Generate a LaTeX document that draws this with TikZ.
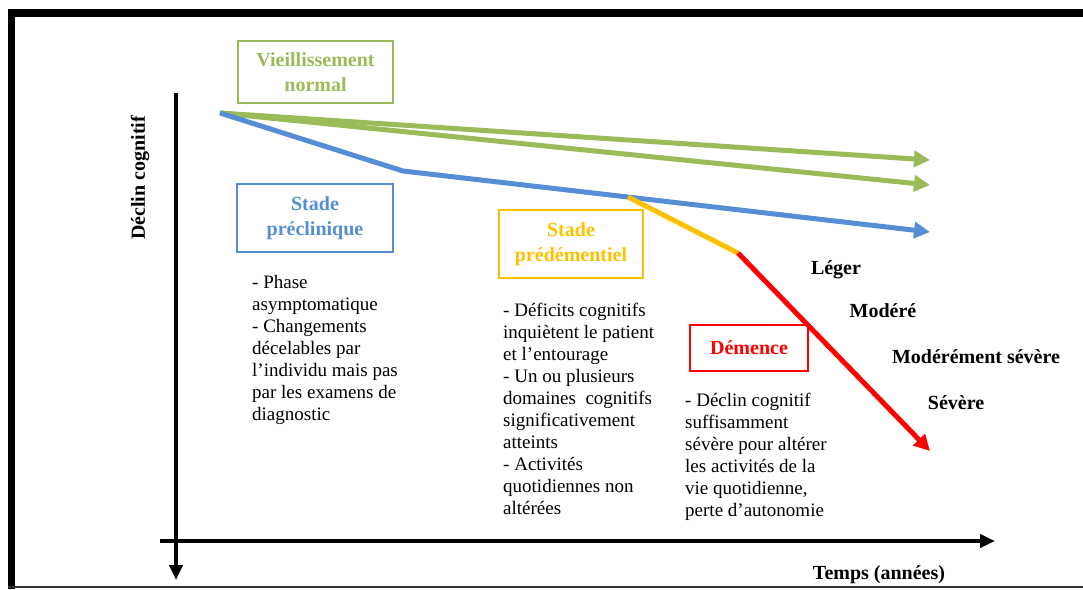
\documentclass[tikz,border=0pt]{standalone}
\usepackage{fontspec}
\setmainfont{Liberation Serif}
\usetikzlibrary{arrows.meta}
\definecolor{vgreen}{RGB}{155,187,89}
\definecolor{vblue}{RGB}{85,142,213}
\definecolor{vyellow}{RGB}{255,192,0}
\definecolor{vred}{RGB}{255,0,0}
\begin{document}
\begin{tikzpicture}[x=1pt,y=-1pt,
    stagebox/.style={draw, line width=1.5pt, inner sep=0pt, align=center, font=\fontsize{20}{25}\selectfont\bfseries},
    notes/.style={anchor=north west, inner sep=0pt, align=left, font=\fontsize{19}{22}\selectfont},
    level/.style={inner sep=0pt, font=\fontsize{20}{24}\selectfont\bfseries},
    curve/.style={line width=5pt, -{Triangle[length=16pt,width=16pt]}},
    axis/.style={line width=4pt, -{Triangle[length=15pt,width=13pt]}}]
    \useasboundingbox (0,0) rectangle (1083,589);
    \draw[line width=8pt] (8,13) -- (1083,13);
    \draw[line width=7pt] (11.5,9) -- (11.5,589);
    \draw[line width=2pt, black!80] (8,587) -- (1083,587);

    \coordinate (ytop) at (176,93);
    \coordinate (ybot) at (176,580);
    \coordinate (xleft) at (160,541);
    \coordinate (xright) at (995,541);
    \draw[axis] (ytop) -- (ybot);
    \draw[axis] (xleft) -- (xright);
    \node[level, rotate=90] (ylabel) at (140,178) {Déclin cognitif};
    \node[level] (xlabel) at (879,575) {Temps (années)};

    \coordinate (origin) at (220,113);
    \coordinate (kink) at (403,171);
    \coordinate (prodrome) at (628,197);
    \coordinate (onset) at (738,253);
    \coordinate (gend1) at (930,160);
    \coordinate (gend2) at (930,185);
    \coordinate (bend) at (930,232);
    \coordinate (rend) at (930,451);
    \draw[curve, vgreen] (origin) -- (gend1);
    \draw[curve, vgreen] (origin) -- (gend2);
    \draw[curve, vblue] (origin) -- (kink) -- (bend);
    \draw[line width=5pt, vyellow] (prodrome) -- (onset);
    \draw[curve, vred] (onset) -- (rend);

    \node[stagebox, draw=vgreen, text=vgreen, minimum width=155pt, minimum height=62pt] (normal) at (315.5,72) {Vieillissement\\normal};
    \node[stagebox, draw=vblue, text=vblue, minimum width=156pt, minimum height=68pt] (preclin) at (315,218) {Stade\\préclinique};
    \node[stagebox, draw=vyellow, text=vyellow, minimum width=144pt, minimum height=68pt] (predem) at (571,244) {Stade\\prédémentiel};
    \node[stagebox, draw=vred, text=vred, minimum width=118pt, minimum height=46pt] (dementia) at (749,348) {Démence};

    \node[notes] (preclintxt) at (252,275) {- Phase\\asymptomatique\\- Changements\\décelables par\\l’individu mais pas\\par les examens de\\diagnostic};
    \node[notes] (predemtxt) at (503,303) {- Déficits cognitifs\\inquiètent le patient\\et l’entourage\\- Un ou plusieurs\\domaines\ \ cognitifs\\significativement\\atteints\\- Activités\\quotidiennes non\\altérées};
    \node[notes] (dementiatxt) at (685,393) {- Déclin cognitif\\suffisamment\\sévère pour altérer\\les activités de la\\vie quotidienne,\\perte d’autonomie};

    \node[level] (mild) at (836,270) {Léger};
    \node[level] (moderate) at (883,311) {Modéré};
    \node[level] (modsevere) at (976,357) {Modérément sévère};
    \node[level] (severe) at (956,403) {Sévère};
\end{tikzpicture}
\end{document}
